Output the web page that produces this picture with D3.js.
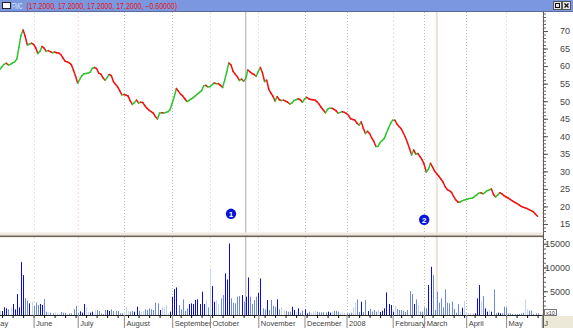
<!DOCTYPE html>
<html>
<head>
<meta charset="utf-8">
<script src="https://cdn.jsdelivr.net/npm/d3@7"></script>
<style>
body { margin: 0; background: #fff; overflow: hidden; }
svg { display: block; font-family: "Liberation Sans", Arial, sans-serif; }
</style>
</head>
<body>
<script>
// FMC daily closes, mid May 2007 - end of May 2008
var ticker = "FMC";
var close = [
  59.1, 59.9, 60.5, 60.8, 60.3, 60.5, 60.9, 61.2, 62.0, 65.3,
  68.8, 70.3, 68.5, 66.0, 66.3, 66.5, 66.2, 65.2, 63.6, 64.2,
  65.6, 65.1, 64.2, 64.4, 64.1, 63.8, 64.0, 63.8, 63.7, 63.3,
  62.3, 61.4, 61.2, 60.9, 60.4, 58.8, 57.1, 55.1, 56.3, 57.3,
  57.8, 57.9, 58.0, 58.3, 59.4, 59.6, 59.3, 58.0, 57.7, 56.7,
  56.0, 56.7, 57.6, 57.3, 55.6, 54.8, 54.1, 53.0, 51.8, 51.9,
  51.7, 51.5, 50.1, 49.1, 49.6, 50.3, 49.5, 49.7, 49.6, 48.7,
  48.0, 47.4, 47.0, 46.6, 45.6, 44.9, 46.6, 46.7, 46.6, 46.8,
  47.0, 47.6, 49.4, 51.3, 53.6, 52.8, 52.0, 51.5, 50.7, 49.9,
  50.2, 50.6, 51.0, 51.5, 52.0, 52.5, 53.0, 54.4, 54.5, 54.1,
  54.1, 54.7, 55.2, 55.0, 55.0, 54.5, 53.9, 56.0, 58.4, 60.9,
  60.3, 58.5, 57.7, 57.0, 55.9, 56.3, 55.7, 56.4, 58.9, 58.4,
  57.9, 57.6, 57.1, 58.5, 59.6, 58.0, 55.6, 56.0, 53.4, 52.3,
  51.4, 50.0, 51.3, 50.4, 50.2, 50.3, 50.0, 49.7, 49.2, 49.5,
  50.2, 50.4, 50.7, 50.4, 49.7, 50.6, 51.1, 50.7, 50.5, 50.4,
  50.3, 49.8, 49.1, 48.2, 47.4, 46.7, 47.7, 48.0, 48.0, 47.7,
  47.3, 46.6, 46.8, 47.0, 46.8, 46.5, 45.9, 45.0, 44.8, 44.6,
  43.7, 43.2, 44.1, 42.3, 40.8, 41.4, 40.8, 39.5, 38.6, 37.1,
  37.1, 38.2, 38.8, 39.4, 40.9, 42.3, 43.7, 44.6, 44.6, 43.5,
  42.8, 42.2, 41.0, 39.8, 38.2, 36.5, 34.7, 36.1, 34.9, 35.1,
  34.2, 33.3, 32.0, 29.8, 30.6, 32.3, 31.2, 30.0, 29.3, 28.6,
  27.8, 26.9, 25.6, 24.8, 24.5, 24.0, 22.9, 21.9, 21.3, 21.2,
  21.6, 21.8, 22.0, 22.2, 22.3, 22.4, 22.8, 23.3, 23.8, 23.9,
  23.6, 24.0, 24.5, 24.7, 25.0, 23.4, 22.7, 23.3, 23.9, 23.6,
  23.1, 22.7, 22.4, 22.0, 21.6, 21.2, 20.9, 20.5, 20.1, 19.8,
  19.6, 19.4, 19.1, 18.8, 18.5, 17.8, 17.2
];

// daily volume (shares / 10)
var volume = [
  840, 840, 1610, 1400, 1190, 1610, 2310, 1190, 4410, 1610,
  11130, 8400, 3500, 3010, 2450, 2800, 1890, 2590, 2100, 2310,
  2100, 3360, 700, 560, 490, 350, 560, 490, 210, 630,
  490, 490, 210, 350, 350, 1190, 1890, 490, 770, 490,
  2310, 1610, 700, 490, 700, 1050, 1050, 840, 350, 210,
  1050, 1050, 840, 1190, 840, 840, 840, 350, 350, 700,
  1610, 840, 700, 840, 700, 1750, 910, 700, 840, 1190,
  1050, 1400, 1190, 1050, 2590, 2450, 1050, 1750, 1610, 2100,
  350, 700, 3850, 5460, 5810, 2100, 1190, 3290, 840, 1400,
  2310, 2450, 2310, 3150, 3290, 2310, 4900, 2310, 3150, 1610,
  9800, 6090, 2800, 3150, 2310, 3500, 4200, 8750, 7490, 15050,
  3500, 2590, 2450, 3850, 3990, 4200, 2800, 3850, 7910, 3850,
  2310, 3150, 3850, 4690, 7700, 1400, 1190, 3150, 1050, 3150,
  1890, 1750, 3290, 1190, 1610, 1050, 840, 700, 700, 1750,
  1050, 700, 1400, 490, 910, 1190, 350, 700, 490, 630,
  840, 700, 560, 560, 560, 560, 700, 490, 700, 840,
  840, 700, 490, 700, 490, 350, 350, 490, 1610, 2590,
  3290, 630, 2800, 630, 3150, 840, 1330, 700, 1050, 700,
  1050, 630, 910, 1400, 4760, 2310, 2100, 700, 1890, 1260,
  1050, 1050, 910, 630, 1050, 5040, 4410, 2310, 3290, 2100,
  700, 700, 1610, 1400, 6300, 10150, 8400, 1050, 4900, 2590,
  3500, 1610, 5390, 2590, 2450, 2800, 1260, 490, 2310, 700,
  1540, 3010, 490, 350, 350, 350, 350, 3500, 6300, 2940,
  3990, 1400, 700, 1050, 700, 5390, 350, 490, 350, 350,
  1750, 1610, 350, 350, 210, 210, 210, 210, 350, 490,
  3290, 1190, 910, 910, 210, 350, 350
];

// month labels and the trading day (index in close[]) where each starts
var monthNames = ["May", "June", "July", "August", "September", "October", "November",
                  "December", "2008", "February", "March", "April", "May", "J"];
var monthStart = [-4, 16, 37, 59, 82, 100, 123, 145, 165, 187, 202, 222, 241, 258];

var priceTicks = [15, 20, 25, 30, 35, 40, 45, 50, 55, 60, 65, 70];
var volumeTicks = [5000, 10000, 15000];

// numbered event markers and the two vertical study lines
var eventLabels = ["1", "2"];
var eventDay = [110, 202];
var eventPrice = [17.9, 16.2];
var studyLineDay = [117, 208];

var W = 573, H = 328;
var plotRight = 543;

var svg = d3.select("body").append("svg")
    .attr("width", W)
    .attr("height", H);

var x = d3.scaleLinear().domain([0, close.length - 1]).range([0, 537.6]);
var y = d3.scaleLinear().domain([15, 70]).range([224, 31]);
var yv = d3.scaleLinear().domain([0, 15000]).range([315, 243.75]);

// title bar
svg.append("rect").attr("x", 0).attr("y", 0).attr("width", W).attr("height", 11).attr("fill", "#7b97df");
svg.append("line").attr("x1", 0).attr("x2", W).attr("y1", 11.5).attr("y2", 11.5).attr("stroke", "#5b6a98");
svg.append("rect").attr("x", 2.5).attr("y", 2.5).attr("width", 8).attr("height", 6)
    .attr("fill", "#fff").attr("stroke", "#222").attr("stroke-width", 1);

var n = close.length;
var chg = close[n - 1] - close[n - 2];
var f4 = d3.format(".4f");
var lastTxt = f4(close[n - 1]);

// squeeze a text horizontally to a given width (narrow pixel font in the original)
function squeezed(str, left, width, color) {
  var t = svg.append("text").attr("y", 8.6).attr("font-size", 8.5).attr("fill", color).text(str);
  var w = t.node().getComputedTextLength();
  t.attr("transform", "translate(" + left + ",0) scale(" + (width / w) + ",1)");
  return t;
}
squeezed(ticker, 12, 10.5, "#dfe6ff");
squeezed("(" + [lastTxt, lastTxt, lastTxt, lastTxt].join(", ") + ", " + d3.format(".5f")(chg) + ")", 26.5, 151, "#e01818");

// window buttons
[553.5, 562.5].forEach(function(bx, k) {
  svg.append("rect").attr("x", bx).attr("y", 1.5).attr("width", 8).attr("height", 8)
      .attr("fill", "#e6e6e6").attr("stroke", "#555");
  if (k == 0) {
    svg.append("rect").attr("x", bx + 2).attr("y", 3.5).attr("width", 4).attr("height", 4)
        .attr("fill", "none").attr("stroke", "#111");
  } else {
    svg.append("path").attr("d", "M" + (bx + 2) + ",3.5L" + (bx + 6) + ",7.5M" + (bx + 6) + ",3.5L" + (bx + 2) + ",7.5")
        .attr("stroke", "#111").attr("stroke-width", 1.3);
  }
});

// grid lines at month starts
var grayMonths = ["August", "September", "December", "2008", "March", "April"];
var grid = svg.append("g");
monthStart.forEach(function(d, k) {
  if (d < 0) return;
  var gray = grayMonths.indexOf(monthNames[k]) >= 0;
  [[12, 232], [237, 315]].forEach(function(r) {
    grid.append("line")
        .attr("x1", Math.round(x(d)) + 0.5).attr("x2", Math.round(x(d)) + 0.5)
        .attr("y1", r[0]).attr("y2", r[1])
        .attr("stroke", gray ? "#bdbdbd" : "#f0e0d6")
        .attr("stroke-dasharray", gray ? "1,2" : "2,2");
  });
});

// study lines
studyLineDay.forEach(function(d, k) {
  svg.append("line")
      .attr("x1", x(d)).attr("x2", x(d)).attr("y1", 12).attr("y2", 315)
      .attr("stroke", k == 0 ? "#b8b8b8" : "#ebe3d4")
      .attr("stroke-width", k == 0 ? 1.2 : 2);
});

// price line, green up / red down
var segs = d3.range(1, n).map(function(i) { return [i - 1, i]; });
svg.append("g").selectAll("line").data(segs).enter().append("line")
    .attr("x1", function(d) { return x(d[0]); })
    .attr("y1", function(d) { return y(close[d[0]]); })
    .attr("x2", function(d) { return x(d[1]); })
    .attr("y2", function(d) { return y(close[d[1]]); })
    .attr("stroke", function(d) { return close[d[1]] >= close[d[0]] ? "#2fc42f" : "#f21010"; })
    .attr("stroke-width", 1.5)
    .attr("stroke-linecap", "round");

// event markers
svg.append("g").selectAll("g").data(eventLabels).enter().append("g")
    .attr("transform", function(d, k) { return "translate(" + x(eventDay[k]) + "," + y(eventPrice[k]) + ")"; })
    .each(function(d) {
      d3.select(this).append("circle").attr("r", 5.2).attr("fill", "#0a14d8");
      d3.select(this).append("text").attr("y", 3).attr("text-anchor", "middle")
          .attr("font-size", 8).attr("font-weight", "bold").attr("fill", "#fff").text(d);
    });

// panel separator
svg.append("rect").attr("x", 0).attr("y", 232.5).attr("width", plotRight).attr("height", 3).attr("fill", "#efe8dc");
svg.append("rect").attr("x", 0).attr("y", 235.5).attr("width", plotRight).attr("height", 1.6).attr("fill", "#6d6152");

// volume bars
svg.append("g").selectAll("rect").data(volume).enter().append("rect")
    .attr("x", function(d, i) { return Math.round(x(i)); })
    .attr("y", function(d) { return yv(d); })
    .attr("width", 1)
    .attr("height", function(d) { return yv(0) - yv(d); })
    .attr("fill", function(d, i) {
      var c = i > 0 ? close[i] - close[i - 1] : 0;
      if (Math.abs(c) < 0.25) return "#c6d4f4";
      return c > 0 ? "#0a0ae4" : "#6c89e2";
    });

// right price axis
var pa = svg.append("g").attr("transform", "translate(" + plotRight + ",0)");
pa.append("line").attr("x1", 0.5).attr("x2", 0.5).attr("y1", 12).attr("y2", 328).attr("stroke", "#5a5a5a");
pa.append("g").call(d3.axisRight(y).tickValues(d3.range(13, 76)).tickSize(3).tickFormat(""))
    .call(function(g) { g.select(".domain").remove(); g.selectAll("line").attr("stroke", "#666"); });
pa.append("g").call(d3.axisRight(y).tickValues(priceTicks).tickSize(5))
    .call(function(g) {
      g.select(".domain").remove();
      g.selectAll("line").attr("stroke", "#555");
      g.selectAll("text").attr("x", 27).attr("text-anchor", "end")
          .attr("font-size", 9).attr("fill", "#444").attr("font-family", "Liberation Sans, Arial, sans-serif");
    });

// right volume axis
var va = svg.append("g").attr("transform", "translate(" + plotRight + ",0)");
va.append("g").call(d3.axisRight(yv).tickValues(d3.range(1000, 16001, 1000)).tickSize(3).tickFormat(""))
    .call(function(g) { g.select(".domain").remove(); g.selectAll("line").attr("stroke", "#666"); });
va.append("g").call(d3.axisRight(yv).tickValues(volumeTicks).tickSize(5).tickFormat(d3.format("d")))
    .call(function(g) {
      g.select(".domain").remove();
      g.selectAll("line").attr("stroke", "#555");
      g.selectAll("text").attr("x", 27).attr("text-anchor", "end")
          .attr("font-size", 9).attr("fill", "#444").attr("font-family", "Liberation Sans, Arial, sans-serif");
    });

// x10 box and corner
svg.append("rect").attr("x", plotRight + 1).attr("y", 316).attr("width", W - plotRight).attr("height", 12).attr("fill", "#ece9d8");
svg.append("rect").attr("x", plotRight + 1.5).attr("y", 309.5).attr("width", 12).attr("height", 6)
    .attr("fill", "#fff").attr("stroke", "#777");
svg.append("text").attr("x", plotRight + 7.5).attr("y", 314.6).attr("text-anchor", "middle")
    .attr("font-size", 5.5).attr("fill", "#333").text("x10");

// bottom date axis
var xa = svg.append("g").attr("transform", "translate(0,315)");
xa.append("line").attr("x1", 0).attr("x2", plotRight).attr("y1", 0.5).attr("y2", 0.5).attr("stroke", "#222");
xa.append("g").call(d3.axisBottom(x).tickValues(d3.range(1, n, 5)).tickSize(3).tickFormat(""))
    .call(function(g) { g.select(".domain").remove(); g.selectAll("line").attr("stroke", "#111"); });
xa.append("g").call(d3.axisBottom(x).tickValues(monthStart).tickSize(13).tickFormat(function(d, k) { return monthNames[k]; }))
    .call(function(g) {
      g.select(".domain").remove();
      g.selectAll("line").attr("stroke", "#8a8a8a");
      g.selectAll("text").attr("y", 11).attr("x", 2).attr("dy", 0).attr("text-anchor", "start")
          .attr("font-size", 7.5).attr("fill", "#444").attr("font-family", "Liberation Sans, Arial, sans-serif");
    });
</script>
</body>
</html>
